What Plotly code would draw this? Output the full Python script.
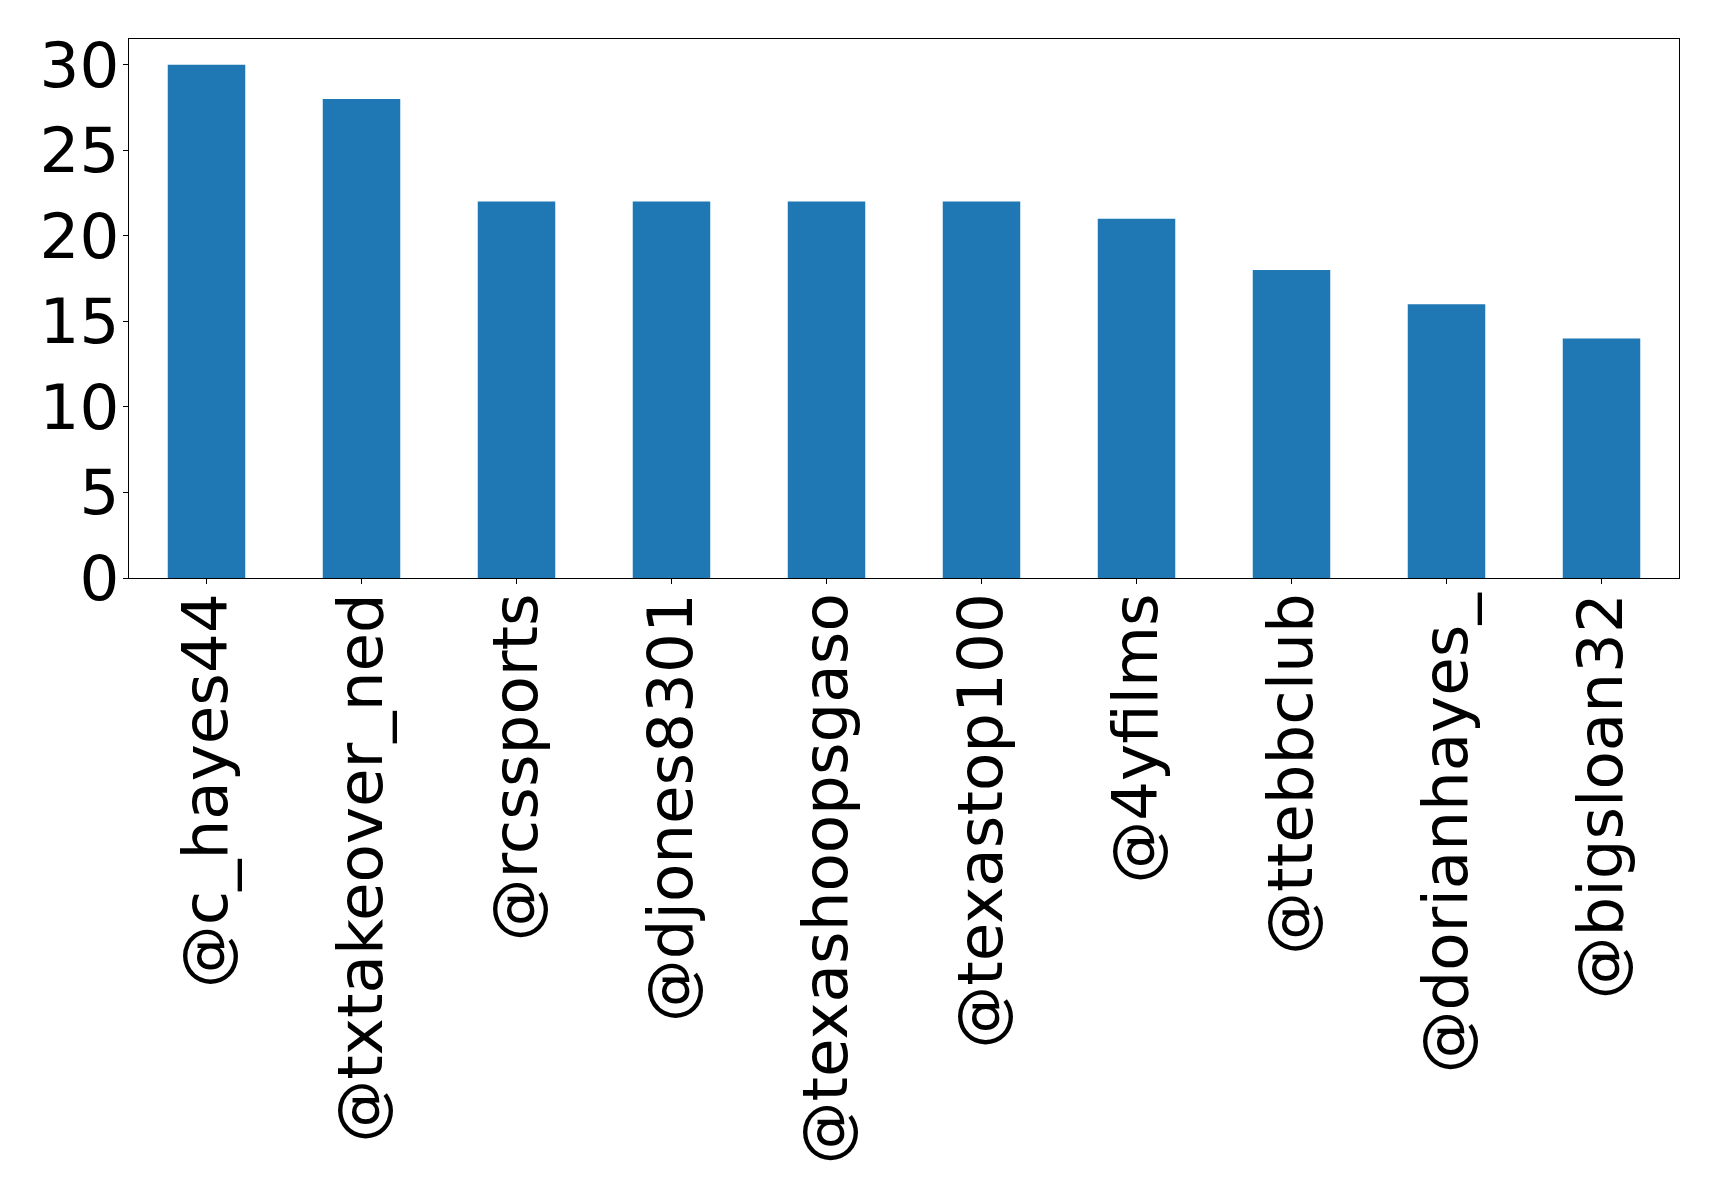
import plotly.graph_objects as go

categories = ["@c_hayes44", "@txtakeover_ned", "@rcssports", "@djones8301", "@texashoopsgaso",
              "@texastop100", "@4yfilms", "@ttebbclub", "@dorianhayes_", "@bigsloan32"]
values = [30, 28, 22, 22, 22, 22, 21, 18, 16, 14]
y_ticks = [0, 5, 10, 15, 20, 25, 30]

fig = go.Figure(go.Bar(
    x=list(range(len(categories))), y=values, width=0.5,
    marker=dict(color="#1f77b4", line=dict(width=0)),
))

font = dict(family="DejaVu Sans", size=62.7, color="black")
fig.update_layout(
    width=1711, height=1189,
    margin=dict(l=121, r=40, t=31, b=619, autoexpand=False),
    paper_bgcolor="white", plot_bgcolor="white",
    showlegend=False,
    font=font,
)
fig.update_xaxes(
    range=[-0.5, len(categories) - 0.5],
    tickmode="array", tickvals=list(range(len(categories))), ticktext=categories,
    tickangle=-90, ticks="outside", ticklen=5, tickcolor="black",
    ticklabelstandoff=-16,
    showline=True, linecolor="black", linewidth=1.3, mirror=True,
    showgrid=False, zeroline=False, tickfont=font,
)
fig.update_yaxes(
    range=[0, 31.5],
    tickmode="array", tickvals=y_ticks, ticktext=[str(v) for v in y_ticks],
    ticks="outside", ticklen=5, tickcolor="black",
    ticklabelstandoff=-9,
    showline=True, linecolor="black", linewidth=1.3, mirror=True,
    showgrid=False, zeroline=False, tickfont=font,
)
fig.write_html("out.html")
